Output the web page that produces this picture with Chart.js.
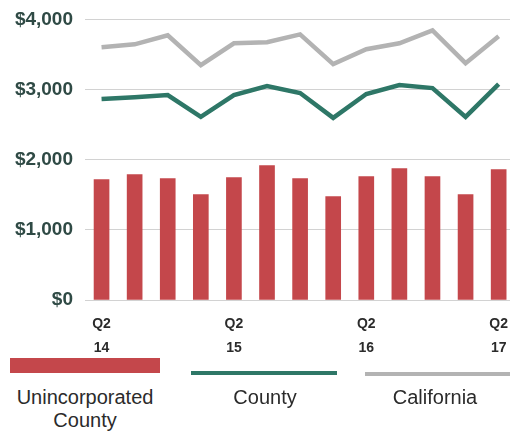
<!DOCTYPE html>
<html>
<head>
<meta charset="utf-8">
<script src="https://cdn.jsdelivr.net/npm/chart.js@4/dist/chart.umd.min.js"></script>
<style>
  html, body { margin: 0; padding: 0; background: #fff; overflow: hidden; width: 510px; height: 434px; }
  #wrap { position: relative; width: 510px; height: 434px; overflow: hidden; }
  #chartBox { position: absolute; left: 0; top: -4px; width: 520px; height: 364px; }
  .sw { position: absolute; }
  .lg { position: absolute; font-family: "Liberation Sans", Arial, sans-serif; font-size: 20px; color: #2b2b2b; text-align: center; line-height: 23px; }
</style>
</head>
<body>
<div id="wrap">
  <div id="chartBox"><canvas id="chart" width="520" height="364"></canvas></div>
  <div class="sw" style="left:10px; top:358px; width:150px; height:15px; background:#c4474b;"></div>
  <div class="sw" style="left:191px; top:371px; width:146px; height:4px; background:#2e7767;"></div>
  <div class="sw" style="left:365px; top:372px; width:150px; height:4px; background:#b3b3b3;"></div>
  <div class="lg" style="left:0px; top:386px; width:170px;">Unincorporated<br>County</div>
  <div class="lg" style="left:205px; top:386px; width:120px;">County</div>
  <div class="lg" style="left:375px; top:386px; width:120px;">California</div>
</div>
<script>
const quarters = ['Q2 14', 'Q3 14', 'Q4 14', 'Q1 15', 'Q2 15', 'Q3 15', 'Q4 15', 'Q1 16', 'Q2 16', 'Q3 16', 'Q4 16', 'Q1 17', 'Q2 17'];
const unincorporated = [1716, 1787, 1730, 1503, 1745, 1915, 1730, 1475, 1759, 1872, 1759, 1503, 1858];
const county = [2865, 2890, 2922, 2610, 2922, 3050, 2950, 2596, 2936, 3064, 3021, 2610, 3078];
const california = [3603, 3645, 3773, 3348, 3660, 3674, 3787, 3362, 3574, 3660, 3844, 3376, 3759];
const yTicks = [0, 1000, 2000, 3000, 4000];

const ctx = document.getElementById('chart').getContext('2d');
new Chart(ctx, {
  data: {
    labels: quarters,
    datasets: [
      {
        type: 'line',
        label: 'California',
        data: california,
        borderColor: '#b3b3b3',
        borderWidth: 4.5,
        pointRadius: 0,
        tension: 0,
        order: 1,
      },
      {
        type: 'line',
        label: 'County',
        data: county,
        borderColor: '#2e7767',
        borderWidth: 4.5,
        pointRadius: 0,
        tension: 0,
        order: 2,
      },
      {
        type: 'bar',
        label: 'Unincorporated County',
        data: unincorporated,
        backgroundColor: '#c4474b',
        barThickness: 15,
        order: 3,
      },
    ],
  },
  options: {
    responsive: false,
    animation: false,
    layout: { padding: { top: 14, right: 0, left: 0, bottom: 0 } },
    plugins: { legend: { display: false }, tooltip: { enabled: false } },
    scales: {
      x: {
        grid: { display: false, drawTicks: false },
        border: { display: false },
        afterFit: (scale) => { scale.height = 60; },
        ticks: {
          autoSkip: false,
          maxRotation: 0,
          padding: 12,
          color: '#2b2b2b',
          font: { family: '"Liberation Sans", Arial, sans-serif', size: 14, weight: 'bold', lineHeight: 1.7 },
          callback: function (value) {
            const lab = quarters[value];
            return lab.startsWith('Q2') ? lab.split(' ') : '';
          },
        },
      },
      y: {
        min: 0,
        max: 4000,
        afterFit: (scale) => { scale.width = 85; },
        afterBuildTicks: (scale) => { scale.ticks = yTicks.map(v => ({ value: v })); },
        grid: { color: '#d2d2d2', lineWidth: 1, drawTicks: false },
        border: { display: false },
        ticks: {
          padding: 12,
          color: '#2f4a45',
          font: { family: '"Liberation Sans", Arial, sans-serif', size: 19, weight: 'bold' },
          callback: (v) => '$' + v.toLocaleString('en-US'),
        },
      },
    },
  },
});
</script>
</body>
</html>
